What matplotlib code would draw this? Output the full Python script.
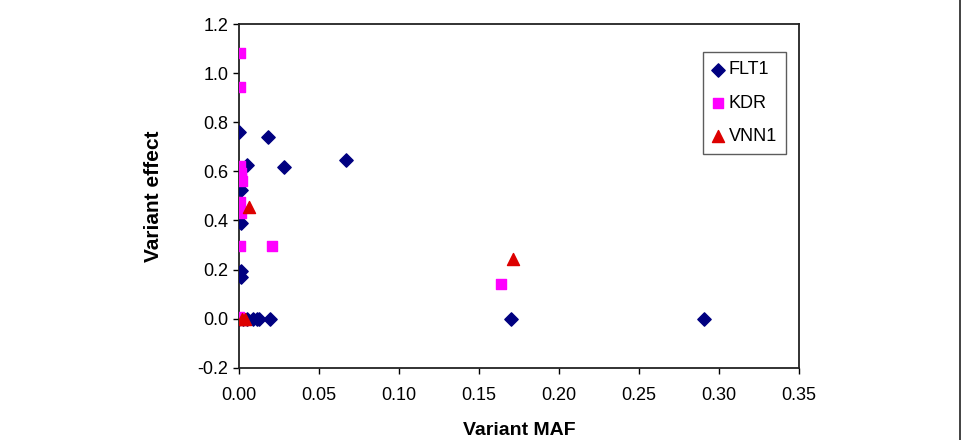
import matplotlib
matplotlib.use("Agg")
import matplotlib.pyplot as plt
from matplotlib.patches import FancyBboxPatch

plt.rcParams['font.family'] = ['Liberation Sans', 'DejaVu Sans']

# FLT1 (navy diamonds)
flt1_maf = [0.0, 0.018, 0.0046, 0.028, 0.067, 0.001, 0.0005, 0.001, 0.001, 0.001,
            0.0, 0.002, 0.005, 0.0084, 0.0113, 0.0125, 0.0192, 0.170, 0.2906]
flt1_eff = [0.76, 0.74, 0.625, 0.616, 0.645, 0.524, 0.449, 0.39, 0.195, 0.17,
            0.0, 0.0, 0.0, 0.0, 0.0, 0.0, 0.0, 0.0, 0.0]

# KDR (magenta squares)
kdr_maf = [0.0004, 0.0004, 0.0004, 0.0008, 0.001, 0.0015, 0.0004, 0.0008, 0.0004, 0.0207, 0.0, 0.164]
kdr_eff = [1.081, 0.942, 0.623, 0.592, 0.571, 0.56, 0.476, 0.429, 0.297, 0.297, 0.005, 0.14]

# VNN1 (red triangles)
vnn1_maf = [0.0063, 0.171, 0.0015, 0.0036]
vnn1_eff = [0.456, 0.243, 0.0, 0.0]

xticks = [0.0, 0.05, 0.10, 0.15, 0.20, 0.25, 0.30, 0.35]
yticks = [-0.2, 0.0, 0.2, 0.4, 0.6, 0.8, 1.0, 1.2]

fig = plt.figure(figsize=(9.63, 4.4), dpi=100)
ax = fig.add_axes([0.2485, 0.1643, 0.5809, 0.7811])

ax.scatter(flt1_maf, flt1_eff, marker='D', s=46, color='#000080', label='FLT1', zorder=3)
ax.scatter(kdr_maf, kdr_eff, marker='s', s=46, color='#FF00FF', label='KDR', zorder=3)
ax.scatter(vnn1_maf, vnn1_eff, marker='^', s=75, color='#DD0000', label='VNN1', zorder=4)

ax.set_xlim(0, 0.35)
ax.set_ylim(-0.2, 1.2)
ax.set_xticks(xticks)
ax.set_yticks(yticks)
ax.set_xticklabels(['%.2f' % v for v in xticks])
ax.set_yticklabels(['%.1f' % v for v in yticks])
ax.tick_params(axis='x', direction='out', length=4, width=1, pad=10, labelsize=13)
ax.tick_params(axis='y', direction='out', length=4, width=1, pad=4, labelsize=13)
for sp in ax.spines.values():
    sp.set_linewidth(1.3)
    sp.set_color('#222222')

ax.set_xlabel('Variant MAF', fontsize=14, fontweight='bold')
ax.set_ylabel('Variant effect', fontsize=15, fontweight='bold')
ax.xaxis.set_label_coords(0.5, -0.158)
ax.yaxis.set_label_coords(-0.136, 0.5)

leg = ax.legend(loc='upper left', bbox_to_anchor=(0.7303, 0.8811),
                bbox_transform=fig.transFigure, fontsize=13, frameon=True,
                fancybox=False, edgecolor='#333333', labelspacing=0.9,
                handlelength=0.6, handletextpad=0.3, borderpad=0.5,
                borderaxespad=0, scatterpoints=1)
leg.get_frame().set_linewidth(1.0)

# outer frame (rounded corner on the right edge)
frame = FancyBboxPatch((-0.5, -0.5), 0.5 + 960 / 963, 1.52,
                       boxstyle='round,pad=0,rounding_size=0.01',
                       transform=fig.transFigure, fill=False,
                       edgecolor='#333333', linewidth=1.3)
fig.patches.append(frame)

fig.savefig('out.png', dpi=100)
